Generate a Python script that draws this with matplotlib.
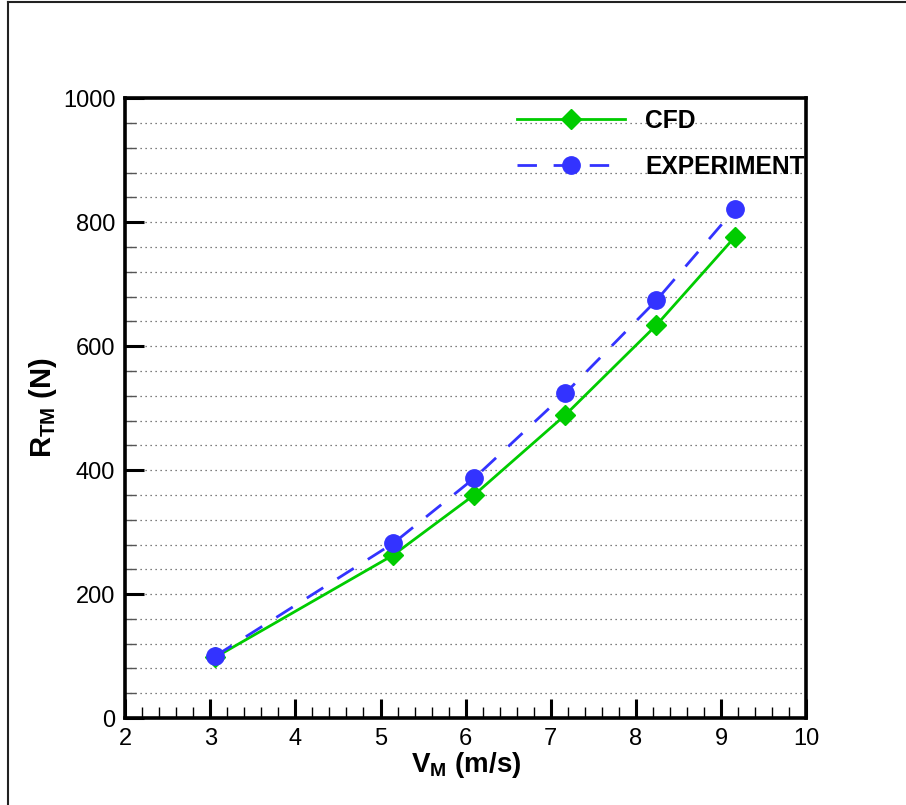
import matplotlib.pyplot as plt
from matplotlib.lines import Line2D
from matplotlib.ticker import MultipleLocator

plt.rcParams['font.family'] = ['Liberation Sans', 'DejaVu Sans']
plt.rcParams['mathtext.fontset'] = 'custom'
plt.rcParams['mathtext.rm'] = 'Liberation Sans:bold'
plt.rcParams['mathtext.it'] = 'Liberation Sans:bold'
plt.rcParams['mathtext.bf'] = 'Liberation Sans:bold'

# data
v_cfd = [3.06, 5.15, 6.10, 7.17, 8.24, 9.16]
r_cfd = [98, 263, 360, 489, 634, 776]
v_exp = [3.06, 5.15, 6.10, 7.17, 8.24, 9.16]
r_exp = [100, 282, 387, 524, 674, 821]

fig = plt.figure(figsize=(9.06, 8.05), dpi=100)
ax = fig.add_axes([0.138, 0.108, 0.752, 0.770])

ax.plot(v_cfd, r_cfd, color='#00cc00', lw=2, marker='D', ms=10,
        label='CFD', zorder=3)
ax.plot(v_exp, r_exp, color='#3333ff', lw=2, dashes=(7, 6), marker='o',
        ms=12.5, label='EXPERIMENT', zorder=4)

ax.set_xlim(2, 10)
ax.set_ylim(0, 1000)
ax.xaxis.set_major_locator(MultipleLocator(1))
ax.xaxis.set_minor_locator(MultipleLocator(0.2))
ax.yaxis.set_major_locator(MultipleLocator(200))
ax.yaxis.set_minor_locator(MultipleLocator(40))
ax.tick_params(which='major', direction='in', length=14, width=2.2,
               labelsize=17, pad=7, top=False, right=False)
ax.tick_params(axis='x', which='minor', direction='in', length=8, width=1,
               color='black', top=False)
ax.tick_params(axis='y', which='minor', direction='in', length=8, width=1,
               color='#555555', right=False)
ax.grid(True, axis='y', which='both', ls=(0, (1, 3)), lw=0.9, color='#555555')
for s in ax.spines.values():
    s.set_linewidth(2.6)

ax.set_xlabel(r'V$_\mathrm{M}$ (m/s)', fontsize=20, fontweight='bold',
              labelpad=0)
ax.set_ylabel(r'R$_\mathrm{TM}$ (N)', fontsize=21, fontweight='bold',
              labelpad=3)

leg = ax.legend(loc='upper right', bbox_to_anchor=(1.03, 1.019),
                frameon=False, handlelength=4.4, labelspacing=0.9,
                handletextpad=0.8, prop={'weight': 'bold', 'size': 17.7})

# partial frame around the figure
fig.add_artist(Line2D([0.009, 0.009], [0, 0.997], color='#222222', lw=1.5))
fig.add_artist(Line2D([0.009, 1], [0.997, 0.997], color='#222222', lw=1.5))

fig.savefig('out.png', dpi=100)
